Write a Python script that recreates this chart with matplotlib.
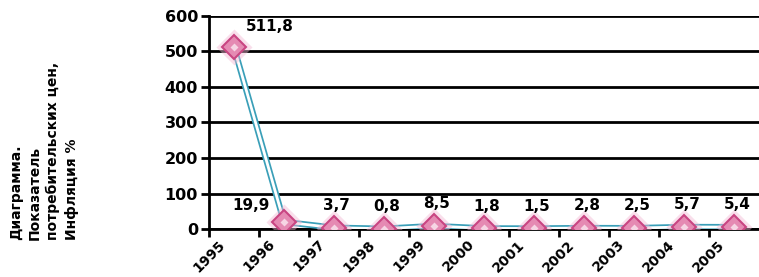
import matplotlib
matplotlib.use("Agg")
import matplotlib.pyplot as plt
import numpy as np

years = ["1995", "1996", "1997", "1998", "1999", "2000", "2001", "2002", "2003", "2004", "2005"]
inflation = [511.8, 19.9, 3.7, 0.8, 8.5, 1.8, 1.5, 2.8, 2.5, 5.7, 5.4]
labels = ["511,8", "19,9", "3,7", "0,8", "8,5", "1,8", "1,5", "2,8", "2,5", "5,7", "5,4"]
yticks = [0, 100, 200, 300, 400, 500, 600]

plt.rcParams['font.family'] = ['DejaVu Sans']

fig = plt.figure(figsize=(7.59, 2.77), dpi=100)
ax = fig.add_axes([209/759, 1-229/277, 550/759, 213/277])

n = len(years)
xc = np.arange(n) + 0.5
ax.set_xlim(0, n)
ax.set_ylim(0, 600)

for y in yticks[1:]:
    ax.axhline(y, color='black', lw=2, zorder=1)
ax.axhline(0, color='black', lw=2, zorder=1)

ax.plot(xc, inflation, color='#3a9fb8', lw=4.5, zorder=3, solid_capstyle='round')
ax.plot(xc, inflation, color='white', lw=2, zorder=3.1, solid_capstyle='round')

ax.plot(xc, inflation, 'D', ms=18, color='#f3b8d4', alpha=0.45, mec='none', zorder=4)
ax.plot(xc, inflation, 'D', ms=12.5, mfc='#e58ab3', mec='#c94582', mew=1.5, zorder=5)
ax.plot(xc, inflation, 'D', ms=4, mfc='#f6d5e4', mec='none', zorder=6)

for i, (x, v, lab) in enumerate(zip(xc, inflation, labels)):
    if i == 0:
        off = (26, 15)
    elif i == 1:
        off = (-24, 12)
    else:
        off = (2, 16)
    ax.annotate(lab, (x, v), xytext=off, textcoords='offset points',
                ha='center', va='center', fontsize=11, fontweight='bold', zorder=7)

ax.set_yticks(yticks)
ax.set_yticklabels([str(t) for t in yticks], fontsize=11.5, fontweight='bold')
ax.set_xticks(np.arange(n))
ax.set_xticklabels(years, rotation=45, ha='center', va='top', fontsize=10, fontweight='bold')
ax.tick_params(axis='both', length=6, width=2, color='black', direction='out')
ax.tick_params(axis='x', pad=0)
ax.tick_params(axis='y', pad=2)

for s in ['top', 'right']:
    ax.spines[s].set_visible(False)
ax.spines['left'].set_linewidth(2)
ax.spines['bottom'].set_linewidth(2)
ax.set_facecolor('white')

fig.text(44/759, 1-240/277, "Диаграмма.\nПоказатель\nпотребительских цен,\nИнфляция %",
         rotation=90, ha='center', va='bottom', multialignment='left',
         fontsize=10, fontweight='bold', linespacing=1.4)

fig.savefig("out.png", dpi=100)
